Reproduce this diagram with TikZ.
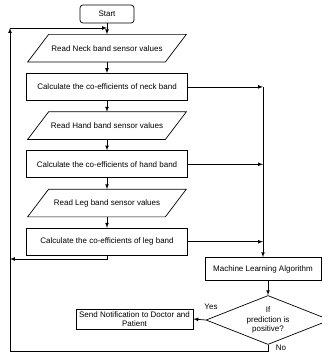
\documentclass[tikz,border=0pt]{standalone}
\usepackage{fontspec}
\setmainfont{Liberation Sans}
\usetikzlibrary{arrows}
\usetikzlibrary{positioning,shapes.geometric}

\begin{document}
\begin{tikzpicture}[x=1pt,y=-1pt,>=latex,auto,node distance=11pt,
			line width=0.7pt,main node/.style={rectangle,draw,fill=white,
				font=\fontsize{8}{9.5}\selectfont,minimum width=161pt,
				minimum height=27pt,inner sep=1pt},
			start node/.style={main node,rounded corners=3pt,
				minimum width=54pt,minimum height=18pt},
			read node/.style={main node,draw=none,fill=none,minimum width=137pt,
				append after command={\pgfextra{\let\rn\tikzlastnode
					\draw ([xshift=10.5pt]\rn.north west) -- ([xshift=10.5pt]\rn.north east)
					-- ([xshift=-10.5pt]\rn.south east) -- ([xshift=-10.5pt]\rn.south west)
					-- cycle;}}},
			ml node/.style={main node,minimum width=116pt,minimum height=23pt},
			dec node/.style={main node,diamond,aspect=2.5,align=center,
				minimum width=124pt,minimum height=49pt,inner sep=0pt},
			send node/.style={main node,align=center,minimum width=117pt,
				minimum height=20pt}]
			
			\useasboundingbox (0,0) rectangle (322,354);
			\clip (0,0) rectangle (322,354);
			
			\node[start node] (start) at (107,14) {Start};
			\node[read node] (neck) [below=of start] {Read Neck band sensor values};
			\node[main node] (neckc) [below=of neck] {Calculate the co-efficients of neck band};
			\node[read node] (hand) [below=of neckc] {Read Hand band sensor values};
			\node[main node] (handc) [below=of hand] {Calculate the co-efficients of hand band};
			\node[read node] (leg) [below=of handc] {Read Leg band sensor values};
			\node[main node] (legc) [below=of leg] {Calculate the co-efficients of leg band};
			\node[ml node] (ml) at (263,269) {Machine Learning Algorithm};
			\node[dec node] (dec) at (268,320) {If\\prediction is\\positive?};
			\node[send node] (send) at (134.5,319) {Send Notification to Doctor and\\Patient};
			\node[font=\fontsize{8}{9.5}\selectfont] (yes) at (211,307) {Yes};
			\node[font=\fontsize{8}{9.5}\selectfont,inner sep=0pt] (no) at (281,348) {No};
			
			\coordinate (loop) at (10,28);
			\coordinate (merge) at (10,259);
			
			\path[->]
			(start) edge (neck)
			(neck) edge (neckc)
			(neckc) edge (hand)
			(hand) edge (handc)
			(handc) edge (leg)
			(leg) edge (legc)
			(neckc.east) edge (neckc.east -| ml.north)
			(handc.east) edge (handc.east -| ml.north)
			(legc.east) edge (legc.east -| ml.north)
			(neckc.east -| ml.north) edge (ml.north)
			(dec.north |- ml.south) edge (dec.north)
			(dec.west) edge (send.east)
			(loop) edge (loop -| start.south);
			\draw[->] (legc.south) |- (merge);
			\draw[->] (dec.south) -- ++(0,6) -| (loop);
		\end{tikzpicture}
\end{document}
